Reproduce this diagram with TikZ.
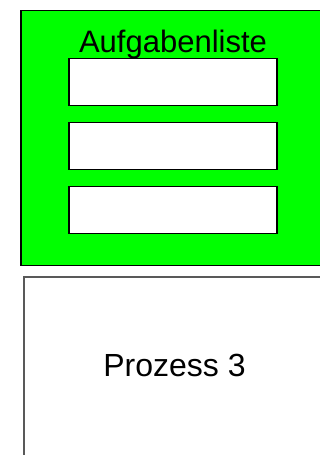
\documentclass[tikz,border=0pt]{standalone}
\usepackage{fontspec}
\setmainfont{Liberation Sans}
\begin{document}
\begin{tikzpicture}[x=1pt,y=-1pt,
  listbox/.style={draw=black, line width=1.2pt, fill=green},
  itembox/.style={draw=black, line width=1.2pt, fill=white, minimum width=208pt, minimum height=47pt, inner sep=0pt},
  procbox/.style={draw=black!65, line width=1.2pt, fill=white}]
\useasboundingbox (0,0) rectangle (320,455);
\begin{scope}
\clip (0,0) rectangle (320,455);
\draw[listbox] (21,10.5) rectangle (330,265.5);
\node[anchor=base, inner sep=0pt, font=\fontsize{31}{36}\selectfont] (title) at (173,52) {Aufgabenliste};
\node[itembox] (i1) at (173,82) {};
\node[itembox] (i2) at (173,146) {};
\node[itembox] (i3) at (173,210) {};
\draw[procbox] (24,277) rectangle (330,470);
\node[anchor=base, inner sep=0pt, font=\fontsize{32}{38}\selectfont] (p3) at (174.5,376) {Prozess 3};
\end{scope}
\end{tikzpicture}
\end{document}
